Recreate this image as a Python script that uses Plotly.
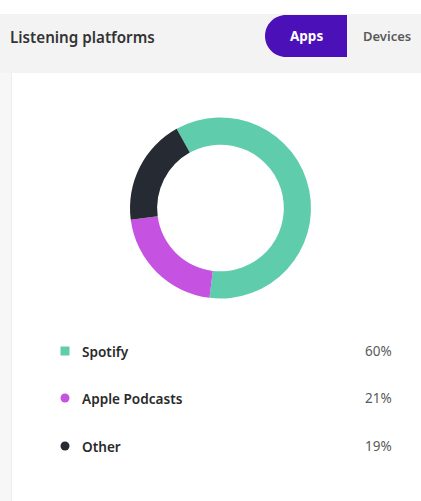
import plotly.graph_objects as go

# Listening platform shares (Apps tab)
platforms = ["Spotify", "Apple Podcasts", "Other"]
shares = [60, 21, 19]
colors = ["#5fcdab", "#c552e0", "#262a33"]
marker_symbols = ["square", "circle", "circle"]

title_text = "Listening platforms"
tab_labels = ["Apps", "Devices"]

W, H = 421, 501
FONT = "Noto Sans"

fig = go.Figure()

# Donut
cx, cy, r = 220.5, 208.0, 90.5
fig.add_trace(go.Pie(
    labels=platforms,
    values=shares,
    marker=dict(colors=colors, line=dict(width=0)),
    hole=0.70,
    sort=False,
    direction="clockwise",
    rotation=-29,
    textinfo="none",
    hoverinfo="label+percent",
    showlegend=False,
    domain=dict(x=[(cx - r) / W, (cx + r) / W],
                y=[1 - (cy + r) / H, 1 - (cy - r) / H]),
))

# Legend markers on a pixel-space overlay axis
row_y = [351, 398, 446]
fig.add_trace(go.Scatter(
    x=[65] * len(platforms), y=row_y,
    mode="markers",
    marker=dict(symbol=marker_symbols, size=9, color=colors, line=dict(width=0)),
    hoverinfo="skip", showlegend=False,
))

shapes = [
    # page strip and header band
    dict(type="rect", x0=0, x1=W, y0=14, y1=73, fillcolor="#f3f3f3", line_width=0, layer="below"),
    dict(type="rect", x0=0, x1=11, y0=73, y1=H, fillcolor="#f7f7f7", line_width=0, layer="below"),
    dict(type="line", x0=11.5, x1=11.5, y0=73, y1=H, line=dict(color="#ececec", width=1), layer="below"),
    # active tab pill
    dict(type="path",
         path="M347,15 L286,15 C274.4,15 265,24.4 265,36 C265,47.6 274.4,57 286,57 L347,57 Z",
         fillcolor="#4b10b8", line_width=0, layer="below"),
]

annotations = [
    dict(x=8, y=37, text=title_text, showarrow=False, xanchor="left", yanchor="middle",
         font=dict(family=FONT, size=15.2, color="#333333", weight=600)),
    dict(x=306, y=36, text=tab_labels[0], showarrow=False, xanchor="center", yanchor="middle",
         font=dict(family=FONT, size=13.5, color="#ffffff", weight=700)),
    dict(x=387, y=36, text=tab_labels[1], showarrow=False, xanchor="center", yanchor="middle",
         font=dict(family=FONT, size=13, color="#5a5a5a", weight=600)),
]

for name, val, yy in zip(platforms, shares, row_y):
    annotations.append(dict(x=80, y=yy, text=name, showarrow=False, xanchor="left", yanchor="middle",
                            font=dict(family=FONT, size=13.6, color="#2a2a2a", weight=600)))
    annotations.append(dict(x=394, y=yy, text=f"{val}%", showarrow=False, xanchor="right", yanchor="middle",
                            font=dict(family=FONT, size=13.5, color="#5a5a5a")))

fig.update_layout(
    width=W, height=H,
    margin=dict(l=0, r=0, t=0, b=0),
    paper_bgcolor="#ffffff",
    plot_bgcolor="rgba(0,0,0,0)",
    xaxis=dict(range=[0, W], visible=False, fixedrange=True),
    yaxis=dict(range=[H, 0], visible=False, fixedrange=True),
    shapes=shapes,
    annotations=annotations,
    font=dict(family=FONT),
)

fig.write_html("out.html")
